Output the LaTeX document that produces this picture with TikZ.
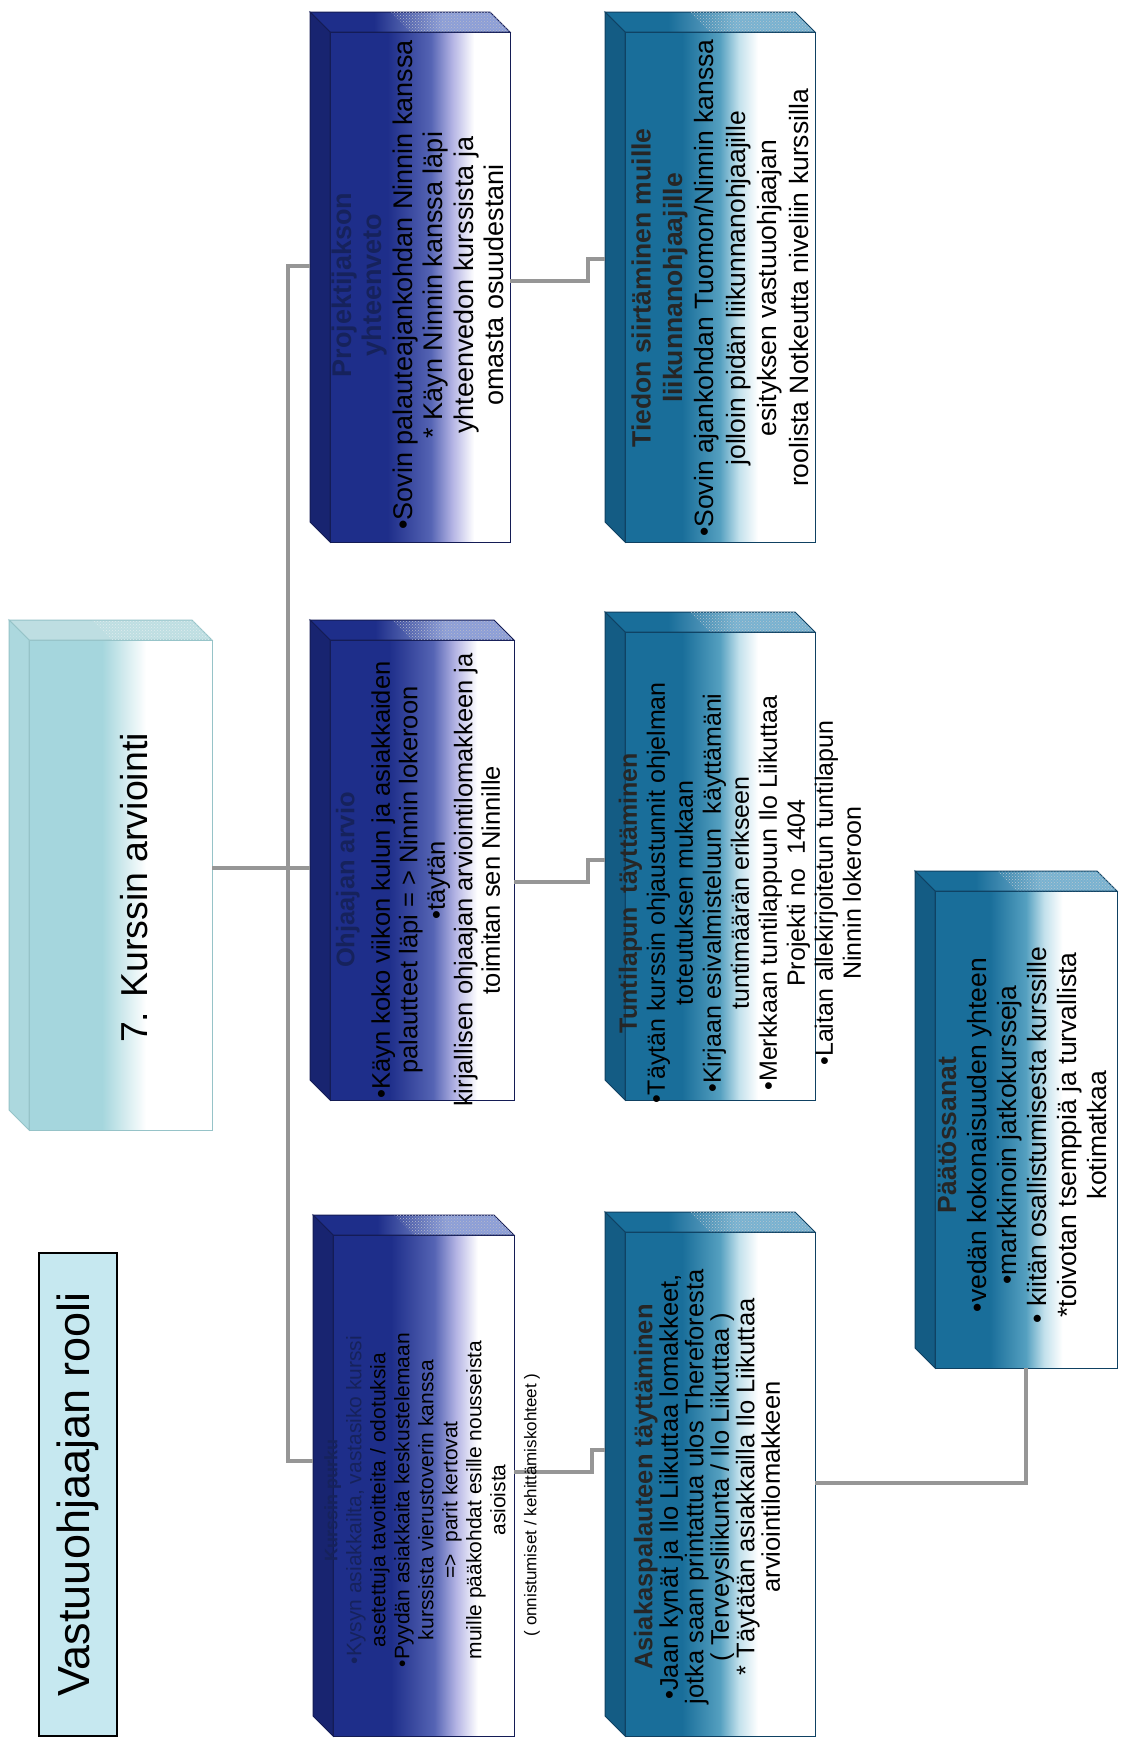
\documentclass[tikz,border=0pt]{standalone}
\usepackage{fontspec}
\setmainfont{Liberation Sans}
\usetikzlibrary{calc,patterns}

% colours
\definecolor{nvA}{RGB}{30,46,138}
\definecolor{nvB}{RGB}{85,100,180}
\definecolor{nvC}{RGB}{180,180,228}
\definecolor{nvSide}{RGB}{24,36,112}
\definecolor{nvTopR}{RGB}{140,158,215}
\definecolor{nvEdge}{RGB}{20,28,85}
\definecolor{hdnavy}{RGB}{22,34,92}
\definecolor{tlA}{RGB}{25,110,154}
\definecolor{tlB}{RGB}{85,160,192}
\definecolor{tlC}{RGB}{195,225,236}
\definecolor{tlSide}{RGB}{20,92,132}
\definecolor{tlTopR}{RGB}{120,178,208}
\definecolor{tlEdge}{RGB}{15,65,98}
\definecolor{mnA}{RGB}{165,214,221}
\definecolor{mnSide}{RGB}{172,216,222}
\definecolor{mnTop}{RGB}{190,222,226}
\definecolor{mnEdge}{RGB}{150,195,200}
\definecolor{titleblue}{RGB}{198,232,240}
\definecolor{linegray}{RGB}{150,150,150}

% face shadings (path box spans 25bp..75bp)
\pgfdeclarehorizontalshading{navyface}{100bp}{color(0bp)=(nvA); color(41bp)=(nvA); color(53bp)=(nvB); color(59bp)=(nvC); color(65bp)=(white); color(100bp)=(white)}
\pgfdeclarehorizontalshading{navytop}{100bp}{color(0bp)=(nvA); color(41bp)=(nvA); color(58bp)=(nvTopR); color(100bp)=(nvTopR)}
\pgfdeclarehorizontalshading{tealface}{100bp}{color(0bp)=(tlA); color(40bp)=(tlA); color(50bp)=(tlB); color(55bp)=(tlC); color(60bp)=(white); color(100bp)=(white)}
\pgfdeclarehorizontalshading{tealtop}{100bp}{color(0bp)=(tlA); color(40bp)=(tlA); color(56bp)=(tlTopR); color(100bp)=(tlTopR)}
\pgfdeclarehorizontalshading{mainface}{100bp}{color(0bp)=(mnA); color(45bp)=(mnA); color(57bp)=(white); color(100bp)=(white)}

\tikzset{
  face/.style={inner sep=0pt, outer sep=0pt, anchor=north west, line width=1pt},
  navyfront/.style={face, shading=navyface, draw=nvEdge},
  tealfront/.style={face, shading=tealface, draw=tlEdge},
  mainfront/.style={face, shading=mainface, draw=mnEdge},
  navyleft/.style={fill=nvSide, draw=nvEdge, line width=1pt},
  tealleft/.style={fill=tlSide, draw=tlEdge, line width=1pt},
  mainleft/.style={fill=mnSide, draw=mnEdge, line width=1pt},
  navyupper/.style={shading=navytop, draw=nvEdge, line width=1pt},
  tealupper/.style={shading=tealtop, draw=tlEdge, line width=1pt},
  mainupper/.style={fill=mnTop, draw=mnEdge, line width=1pt},
  hatch/.style={pattern=crosshatch dots, pattern color=white!70!#1},
  conn/.style={draw=linegray, line width=4pt},
  boxtext/.style={rotate=90, align=center, inner sep=0pt},
}

% a box with depth: front face node #1 from (#2,#3) to (#4,#5), colour family #6
\newcommand\depthbox[6]{%
  \node[#6front, minimum width={#4-#2}, minimum height={#5-#3}] (#1) at (#2,#3) {};
  \path[#6upper] (#1.north west) -- ($(#1.north west)+(-20,-20)$) -- ($(#1.north east)+(-20,-20)$) -- (#1.north east) -- cycle;
  \path[hatch=#6Edge] ($(#1.north west)!0.45!(#1.north east)$) -- ($($(#1.north west)!0.45!(#1.north east)$)+(-20,-20)$) -- ($(#1.north east)+(-20,-20)$) -- (#1.north east) -- cycle;
  \path[#6left] (#1.north west) -- ($(#1.north west)+(-20,-20)$) -- ($(#1.south west)+(-20,-20)$) -- (#1.south west) -- cycle;
}
\colorlet{navyEdge}{nvEdge}
\colorlet{tealEdge}{tlEdge}
\colorlet{mainEdge}{mnEdge}

\newcommand\hdn[1]{{\bfseries\color{hdnavy}#1}}
\newcommand\hdt[1]{{\bfseries\color{black!85}#1}}

\begin{document}
\begin{tikzpicture}[x=1pt, y=-1pt]
  \fill[white] (0,0) rectangle (1120,1751);
  \useasboundingbox (0,0) rectangle (1120,1751);

  % title
  \node[rotate=90, draw=black, line width=2pt, fill=titleblue, minimum width=483, minimum height=78,
        inner sep=0pt, font=\fontsize{45}{50}\selectfont] (title) at (78,1494.5) {Vastuuohjaajan rooli\hspace{24pt}};

  % boxes
  \depthbox{M}{29}{640}{212}{1130}{main}
  \depthbox{A}{330}{32}{510}{542}{navy}
  \depthbox{B}{330}{640}{514}{1100}{navy}
  \depthbox{C}{333}{1235}{514}{1736}{navy}
  \depthbox{D}{625}{32}{815}{542}{teal}
  \depthbox{E}{625}{632}{815}{1100}{teal}
  \depthbox{F}{625}{1232}{815}{1736}{teal}
  \depthbox{G}{935}{891}{1117}{1368}{teal}

  % connectors
  \draw[conn] ($(M.east)+(0,-17)$) -- ($(B.west)+(-20,-2)$);
  \draw[conn] ($(A.west)+(-20,-21)$) -- ++(-22,0) |- ($(C.west)+(-20,-25)$);
  \draw[conn] ($(A.east)+(0,-6)$) -- ++(78,0) |- ($(D.west)+(-20,-28)$);
  \draw[conn] ($(B.east)+(0,12)$) -- ++(74,0) |- ($(E.west)+(-20,-6)$);
  \draw[conn] ($(C.east)+(0,-13.5)$) -- ++(78,0) |- ($(F.west)+(-20,-34)$);
  \draw[conn] ($(F.east)+(0,-1)$) -| (G.south);

  % texts
  \node[boxtext, font=\fontsize{37.5}{40}\selectfont] (Mt) at (134,888) {7. Kurssin arviointi};

  \node[boxtext, font=\fontsize{27}{30.5}\selectfont] (At) at (418,285) {%
    \hdn{Projektijakson}\\
    \hdn{yhteenveto}\\
    •Sovin palauteajankohdan Ninnin kanssa\\
    * Käyn Ninnin kanssa läpi\\
    yhteenvedon kurssista ja\\
    omasta osuudestani};

  \node[boxtext, font=\fontsize{25.5}{27.5}\selectfont] (Bt) at (418,880) {%
    \hdn{Ohjaajan arvio}\\[8pt]
    •Käyn koko viikon kulun ja asiakkaiden\\
    palautteet läpi = > Ninnin lokeroon\\
    •täytän\\
    kirjallisen ohjaajan arviointilomakkeen ja\\
    toimitan sen Ninnille};

  \node[boxtext, font=\fontsize{21}{24}\selectfont] (Ct) at (415,1500) {%
    \hdn{\fontsize{18}{24}\selectfont Kurssin purku}\\
    {\color{hdnavy}•Kysyn asiakkailta, vastasiko kurssi}\\
    asetettuja tavoitteita / odotuksia\\
    •Pyydän asiakkaita keskustelemaan\\
    kurssista vierustoverin kanssa\\
    =>\ \ parit kertovat\\
    muille pääkohdat esille nousseista\\
    asioista};
  \node[boxtext, font=\fontsize{17}{20}\selectfont] (Cn) at (532,1505) {( onnistumiset / kehittämiskohteet )};

  \node[boxtext, font=\fontsize{26.5}{31.5}\selectfont] (Dt) at (720,288) {%
    \hdt{Tiedon siirtäminen muille}\\
    \hdt{liikunnanohjaajille}\\
    •Sovin ajankohdan Tuomon/Ninnin kanssa\\
    jolloin pidän liikunnanohjaajille\\
    esityksen vastuuohjaajan\\
    roolista Notkeutta niveliin kurssilla};

  \node[boxtext, font=\fontsize{25}{28}\selectfont] (Et) at (740,893) {%
    \hdt{Tuntilapun\ \ täyttäminen}\\
    •Täytän kurssin ohjaustunnit ohjelman\\
    toteutuksen mukaan\\
    •Kirjaan esivalmisteluun\ \ käyttämäni\\
    tuntimäärän erikseen\\
    •Merkkaan tuntilappuun Ilo Liikuttaa\\
    Projekti no\ \ 1404\\
    •Laitan allekirjoitetun tuntilapun\\
    Ninnin lokeroon};

  \node[boxtext, font=\fontsize{25.5}{25.5}\selectfont] (Ft) at (707,1487) {%
    \hdt{Asiakaspalauteen täyttäminen}\\
    •Jaan kynät ja Ilo Liikuttaa lomakkeet,\\
    jotka saan printattua ulos Thereforesta\\
    ( Terveysliikunta / Ilo Liikuttaa )\\
    * Täytätän asiakkailla Ilo Liikuttaa\\
    arviointilomakkeen};

  \node[boxtext, font=\fontsize{26.5}{30}\selectfont] (Gt) at (1022,1135) {%
    \hdt{Päätössanat}\\
    •vedän kokonaisuuden yhteen\\
    •markkinoin jatkokursseja\\
    • kiitän osallistumisesta kurssille\\
    *toivotan tsemppiä ja turvallista\\
    kotimatkaa};
\end{tikzpicture}
\end{document}
